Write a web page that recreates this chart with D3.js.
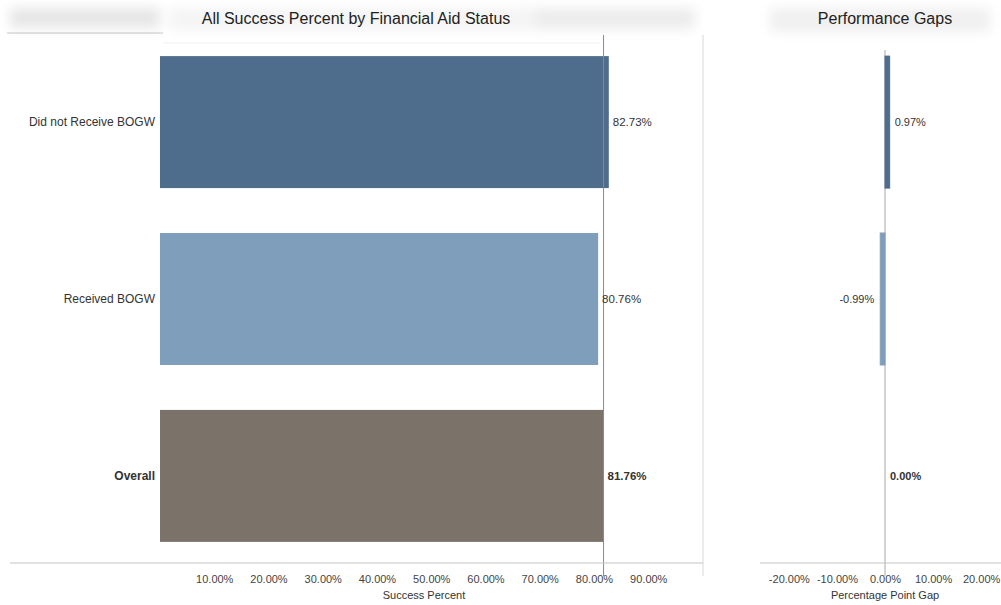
<!DOCTYPE html>
<html>
<head>
<meta charset="utf-8">
<script src="https://cdn.jsdelivr.net/npm/d3@7"></script>
<style>
  html, body { margin: 0; padding: 0; background: #fff; }
  svg { display: block; font-family: "Liberation Sans", Arial, sans-serif; }
</style>
</head>
<body>
<svg id="chart" width="1001" height="605"></svg>
<script>
// Groups shown as rows, top to bottom
const categories = ["Did not Receive BOGW", "Received BOGW", "Overall"];
// Success rate per group (percent)
const successPercent = [82.73, 80.76, 81.76];
// Gap versus the overall rate (percentage points)
const gapPercent = [0.97, -0.99, 0.00];
// Axis tick values
const successTicks = [10, 20, 30, 40, 50, 60, 70, 80, 90];
const gapTicks = [-20, -10, 0, 10, 20];
// Row colours
const rowColors = ["#4e6c8b", "#7f9ebc", "#7b7269"];
// Row whose labels are set in bold
const boldRow = "Overall";

const svg = d3.select("#chart");
// plain hyphen for negatives
const fmt = v => (v < 0 ? "-" : "") + d3.format(".2f")(Math.abs(v)) + "%";

// soft header shading
const defs = svg.append("defs");
defs.append("filter").attr("id", "soft").attr("x", "-30%").attr("y", "-100%")
  .attr("width", "160%").attr("height", "300%")
  .append("feGaussianBlur").attr("stdDeviation", 6);
const shade = svg.append("g").attr("filter", "url(#soft)");
shade.append("rect").attr("x", 10).attr("y", 8).attr("width", 150).attr("height", 20).attr("fill", "#e6e6e6");
shade.append("rect").attr("x", 170).attr("y", 8).attr("width", 520).attr("height", 22).attr("fill", "#f4f4f4");
shade.append("rect").attr("x", 535).attr("y", 8).attr("width", 160).attr("height", 20).attr("fill", "#ececec");
shade.append("rect").attr("x", 770).attr("y", 8).attr("width", 220).attr("height", 24).attr("fill", "#f0f0f0");

const rows = categories.map((c, i) => ({ cat: c, value: successPercent[i], gap: gapPercent[i], color: rowColors[i] }));

const y = d3.scaleBand().domain(categories).range([34, 564]).paddingInner(0.254).paddingOuter(0.125);

// ---------- left panel: success percent ----------
const xL = d3.scaleLinear().domain([0, 100]).range([160, 702.5]);
const axisY = 563;

svg.append("line").attr("x1", 7).attr("x2", 163).attr("y1", 33).attr("y2", 33)
  .attr("stroke", "#c4c4c4");
svg.append("line").attr("x1", 163).attr("x2", 600).attr("y1", 43).attr("y2", 43)
  .attr("stroke", "#f0f0f0");

svg.append("text").attr("x", 356).attr("y", 24).attr("text-anchor", "middle")
  .attr("font-size", 16).attr("fill", "#222").text("All Success Percent by Financial Aid Status");

svg.append("g").selectAll("rect").data(rows).join("rect")
  .attr("x", xL(0)).attr("y", d => y(d.cat))
  .attr("width", d => xL(d.value) - xL(0)).attr("height", y.bandwidth())
  .attr("fill", d => d.color);

// pane border and reference line at the overall rate
svg.append("line").attr("x1", 703).attr("x2", 703).attr("y1", 35).attr("y2", 576)
  .attr("stroke", "#d8d8d8");
const overallValue = successPercent[categories.indexOf("Overall")];
svg.append("line").attr("x1", xL(overallValue)).attr("x2", xL(overallValue)).attr("y1", 35).attr("y2", 576)
  .attr("stroke", "#8a8a8a").attr("stroke-width", 1);

svg.append("g").selectAll("text").data(rows).join("text")
  .attr("x", 155).attr("y", d => y(d.cat) + y.bandwidth() / 2).attr("dy", "0.35em")
  .attr("text-anchor", "end").attr("font-size", 12).attr("fill", "#333")
  .attr("font-weight", d => d.cat === boldRow ? "bold" : "normal")
  .text(d => d.cat);

svg.append("g").selectAll("text").data(rows).join("text")
  .attr("x", d => xL(d.value) + 4).attr("y", d => y(d.cat) + y.bandwidth() / 2).attr("dy", "0.35em")
  .attr("font-size", 11.5).attr("fill", "#333")
  .attr("font-weight", d => d.cat === boldRow ? "bold" : "normal")
  .text(d => fmt(d.value));

svg.append("line").attr("x1", 10).attr("x2", 703).attr("y1", axisY).attr("y2", axisY)
  .attr("stroke", "#c4c4c4");
const axL = svg.append("g").attr("transform", `translate(0,${axisY})`)
  .call(d3.axisBottom(xL).tickValues(successTicks).tickSize(0).tickPadding(12).tickFormat(fmt));
axL.select(".domain").remove();
axL.selectAll("text").attr("font-size", 11).attr("fill", "#444").attr("font-family", "Liberation Sans, Arial, sans-serif");
svg.append("text").attr("x", 424).attr("y", 599).attr("text-anchor", "middle")
  .attr("font-size", 11).attr("fill", "#333").text("Success Percent");

// ---------- right panel: performance gaps ----------
const xR = d3.scaleLinear().domain([-26, 26]).range([760, 1010]);

svg.append("text").attr("x", 885).attr("y", 24).attr("text-anchor", "middle")
  .attr("font-size", 16).attr("fill", "#222").text("Performance Gaps");

svg.append("line").attr("x1", xR(0)).attr("x2", xR(0)).attr("y1", 50).attr("y2", 576)
  .attr("stroke", "#a8a8a8");

svg.append("g").selectAll("rect").data(rows).join("rect")
  .attr("x", d => xR(Math.min(0, d.gap))).attr("y", d => y(d.cat))
  .attr("width", d => Math.abs(xR(d.gap) - xR(0))).attr("height", y.bandwidth())
  .attr("fill", d => d.color).attr("stroke", d => d.color).attr("stroke-width", 1);

svg.append("g").selectAll("text").data(rows).join("text")
  .attr("x", d => d.gap < 0 ? xR(d.gap) - 6 : xR(d.gap) + 5)
  .attr("y", d => y(d.cat) + y.bandwidth() / 2).attr("dy", "0.35em")
  .attr("text-anchor", d => d.gap < 0 ? "end" : "start")
  .attr("font-size", 11).attr("fill", "#333")
  .attr("font-weight", d => d.cat === boldRow ? "bold" : "normal")
  .text(d => fmt(d.gap));

svg.append("line").attr("x1", 760).attr("x2", 1001).attr("y1", axisY).attr("y2", axisY)
  .attr("stroke", "#c4c4c4");
const axR = svg.append("g").attr("transform", `translate(0,${axisY})`)
  .call(d3.axisBottom(xR).tickValues(gapTicks).tickSize(0).tickPadding(12).tickFormat(fmt));
axR.select(".domain").remove();
axR.selectAll("text").attr("font-size", 11).attr("fill", "#444").attr("font-family", "Liberation Sans, Arial, sans-serif");
svg.append("text").attr("x", 885).attr("y", 599).attr("text-anchor", "middle")
  .attr("font-size", 11).attr("fill", "#333").text("Percentage Point Gap");
</script>
</body>
</html>
